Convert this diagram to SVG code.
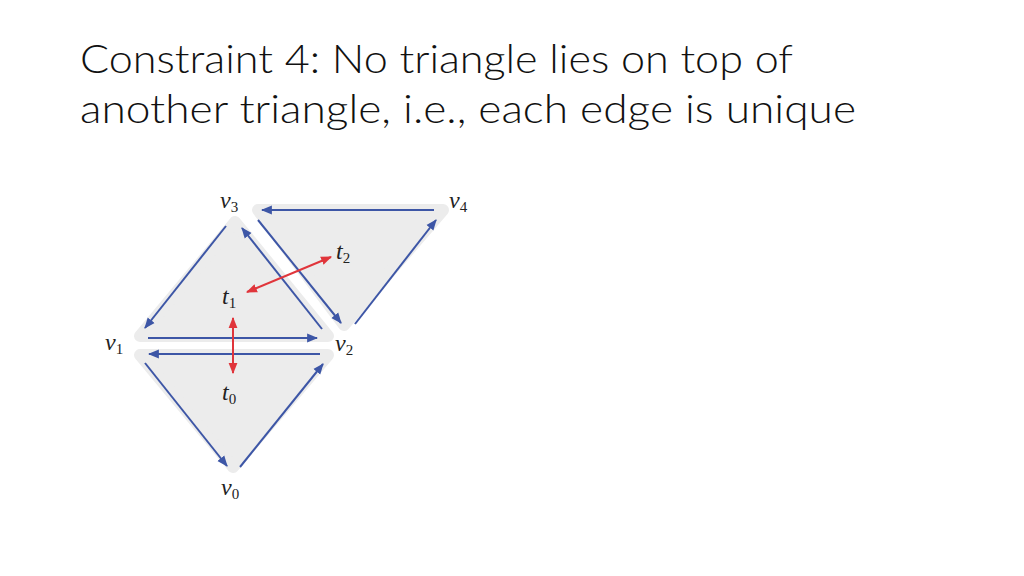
<svg xmlns="http://www.w3.org/2000/svg" width="1024" height="576" viewBox="0 0 1024 576">
<style>
.title{font-family:Lato,"Open Sans","Liberation Sans",sans-serif;font-weight:300;font-size:40px;fill:#111}
.face{fill:#ececec;stroke:#ececec;stroke-width:12;stroke-linejoin:round}
.edge{stroke:#3d56a6;stroke-width:2;fill:none;marker-end:url(#ab)}
.adj{stroke:#e0353b;stroke-width:2;fill:none;marker-start:url(#ars);marker-end:url(#ar)}
.lbl{font-family:"Liberation Serif","DejaVu Serif",serif;font-style:italic;font-size:24px;fill:#222}
.sub{font-style:normal;font-size:15px}
</style>
<defs>
<marker id="ab" viewBox="0 0 10 10" refX="9" refY="5" markerWidth="5.5" markerHeight="5.5" orient="auto" markerUnits="strokeWidth"><path d="M0,1 L10,5 L0,9 Z" fill="#3d56a6"/></marker>
<marker id="ar" viewBox="0 0 10 10" refX="9" refY="5" markerWidth="5.5" markerHeight="5.5" orient="auto" markerUnits="strokeWidth"><path d="M0,1 L10,5 L0,9 Z" fill="#e0353b"/></marker>
<marker id="ars" viewBox="0 0 10 10" refX="1" refY="5" markerWidth="5.5" markerHeight="5.5" orient="auto" markerUnits="strokeWidth"><path d="M10,1 L0,5 L10,9 Z" fill="#e0353b"/></marker>
</defs>
<rect width="1024" height="576" fill="#fff"/>
<g id="title">
<text class="title" x="80" y="73" textLength="713" lengthAdjust="spacingAndGlyphs">Constraint 4: No triangle lies on top of</text>
<text class="title" x="80" y="123" textLength="776" lengthAdjust="spacingAndGlyphs">another triangle, i.e., each edge is unique</text>
</g>
<g id="t1"><polygon class="face" points="235,222 140,336 328,336"/></g>
<g id="t0"><polygon class="face" points="140,355 328,355 233,467"/></g>
<g id="t2"><polygon class="face" points="258,210 443,210 344,325"/></g>
<g id="connectors">
<line class="edge" x1="226" y1="226" x2="145" y2="328"/>
<line class="edge" x1="322" y1="329" x2="242" y2="228"/>
<line class="edge" x1="148" y1="338" x2="317" y2="338"/>
<line class="edge" x1="320" y1="354" x2="149" y2="354"/>
<line class="edge" x1="145" y1="363" x2="227" y2="466"/>
<line class="edge" x1="240" y1="467" x2="323" y2="364"/>
<line class="edge" x1="434" y1="210" x2="262" y2="210"/>
<line class="edge" x1="258" y1="220" x2="341" y2="323"/>
<line class="edge" x1="355" y1="324" x2="436" y2="220"/>
<line class="adj" x1="247" y1="292" x2="331" y2="257"/>
<line class="adj" x1="233" y1="318" x2="233" y2="373"/>
</g>
<g id="labels">
<text class="lbl" x="220" y="208">v<tspan class="sub" dy="4">3</tspan></text>
<text class="lbl" x="449" y="208">v<tspan class="sub" dy="4">4</tspan></text>
<text class="lbl" x="105" y="350">v<tspan class="sub" dy="4">1</tspan></text>
<text class="lbl" x="335" y="351">v<tspan class="sub" dy="4">2</tspan></text>
<text class="lbl" x="221" y="495">v<tspan class="sub" dy="4">0</tspan></text>
<text class="lbl" x="222" y="304">t<tspan class="sub" dy="4">1</tspan></text>
<text class="lbl" x="336" y="259">t<tspan class="sub" dy="4">2</tspan></text>
<text class="lbl" x="222" y="400">t<tspan class="sub" dy="4">0</tspan></text>
</g>
</svg>
